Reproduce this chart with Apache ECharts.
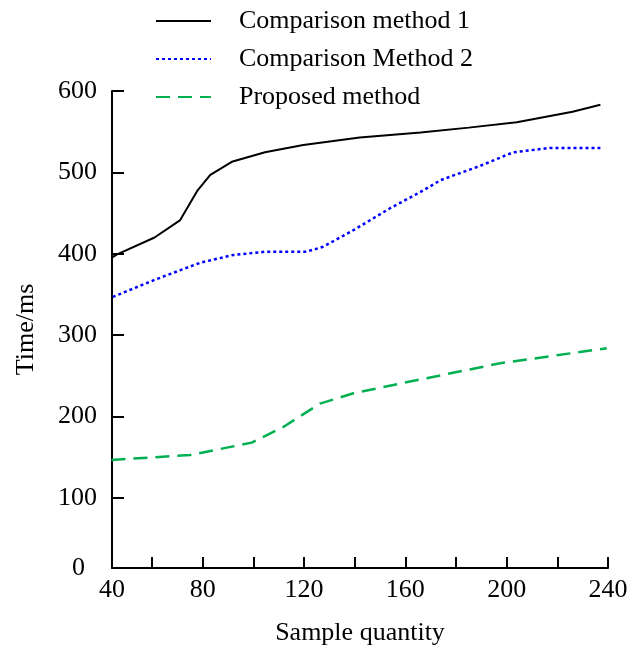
<!DOCTYPE html>
<html>
<head>
<meta charset="utf-8">
<script src="https://cdn.jsdelivr.net/npm/echarts@6/dist/echarts.min.js"></script>
<style>
  html, body { margin: 0; padding: 0; background: #fff; }
  #chart { width: 628px; height: 646px; }
</style>
</head>
<body>
<div id="chart"></div>
<script>
// series data
const method1X = [44, 46, 61, 71, 78, 83, 91.5, 104.6, 119.7, 142, 166, 185, 204, 226, 237];
const method1Y = [395, 399, 420, 441, 478, 497, 513, 524.7, 533.7, 543, 549, 555, 561.5, 574.5, 583];

const method2X = [44.5, 61, 79, 92, 105, 121, 127.6, 139.5, 154, 166, 174, 189.5, 202.6, 217, 237];
const method2Y = [347, 368, 389, 398.5, 402.6, 402.6, 408.7, 429, 456, 476, 490.6, 508, 524.7, 530, 530];

const proposedX = [44, 75, 99.4, 112, 126.3, 139.5, 158, 197.4, 239.5];
const proposedY = [146.7, 152.8, 168, 187.6, 216, 228.6, 240.6, 265.5, 284];

const seriesNames = ['Comparison method 1', 'Comparison Method 2', 'Proposed method'];

// axes: origin labels read "40" and "0" although the axes start a bit above
const xMin = 44.2, xMax = 240;
const yMin = 14, yMax = 600;
const xTickValues = [60, 80, 100, 120, 140, 160, 180, 200, 220, 240];
const xLabelValues = [xMin, 80, 120, 160, 200, 240];
const xLabelTexts = ['40', '80', '120', '160', '200', '240'];
const yTickValues = [100, 200, 300, 400, 500, 600];
const yLabelValues = [yMin, 100, 200, 300, 400, 500, 600];
const yLabelTexts = ['0', '100', '200', '300', '400', '500', '600'];

const pairs = (xs, ys) => xs.map((x, i) => [x, ys[i]]);

const font = 'Liberation Serif';
const fs = 26;

const chart = echarts.init(document.getElementById('chart'));

const option = {
    animation: false,
    backgroundColor: '#fff',
    textStyle: {fontFamily: font},
    legend: {
        orient: 'vertical',
        left: 150,
        top: 3,
        itemWidth: 55,
        itemHeight: 26,
        itemGap: 12,
        data: seriesNames,
        itemStyle: {opacity: 0},
        textStyle: {fontFamily: font, fontSize: fs, color: '#000', padding: [0, 0, 0, 23]}
    },
    grid: {left: 112, right: 20, top: 91, bottom: 78, outerBoundsMode: 'none'},
    xAxis: {
        type: 'value',
        min: xMin,
        max: xMax,
        name: 'Sample quantity',
        nameLocation: 'middle',
        nameGap: 52,
        nameTextStyle: {fontFamily: font, fontSize: fs, color: '#000'},
        splitLine: {show: false},
        axisLine: {lineStyle: {color: '#000', width: 2}},
        axisTick: {inside: true, length: 11, customValues: xTickValues, lineStyle: {color: '#000', width: 2}},
        axisLabel: {
            customValues: xLabelValues,
            formatter: v => xLabelTexts[xLabelValues.indexOf(v)],
            fontFamily: font, fontSize: fs, color: '#000', margin: 9
        }
    },
    yAxis: {
        type: 'value',
        min: yMin,
        max: yMax,
        name: 'Time/ms',
        nameLocation: 'middle',
        nameRotate: 90,
        nameGap: 73,
        nameTextStyle: {fontFamily: font, fontSize: fs, color: '#000'},
        splitLine: {show: false},
        axisLine: {lineStyle: {color: '#000', width: 2}},
        axisTick: {inside: true, length: 12, customValues: yTickValues, lineStyle: {color: '#000', width: 2}},
        axisLabel: {
            customValues: yLabelValues,
            formatter: v => v === yMin ? '{o|' + yLabelTexts[0] + '}' : yLabelTexts[yLabelValues.indexOf(v)],
            rich: {o: {fontFamily: font, fontSize: fs, color: '#000', padding: [0, 12, 0, 0]}},
            fontFamily: font, fontSize: fs, color: '#000', margin: 15
        }
    },
    series: [
        {
            name: seriesNames[0],
            type: 'line',
            symbol: 'none',
            data: pairs(method1X, method1Y),
            lineStyle: {color: '#000', width: 2, type: 'solid'},
            itemStyle: {color: '#000'}
        },
        {
            name: seriesNames[1],
            type: 'line',
            symbol: 'none',
            data: pairs(method2X, method2Y),
            lineStyle: {color: '#0000ff', width: 2.5, type: [3, 3]},
            itemStyle: {color: '#0000ff'}
        },
        {
            name: seriesNames[2],
            type: 'line',
            symbol: 'none',
            data: pairs(proposedX, proposedY),
            lineStyle: {color: '#00b050', width: 2.5, type: [14, 8]},
            itemStyle: {color: '#00b050'}
        }
    ]
};

chart.setOption(option);
</script>
</body>
</html>
